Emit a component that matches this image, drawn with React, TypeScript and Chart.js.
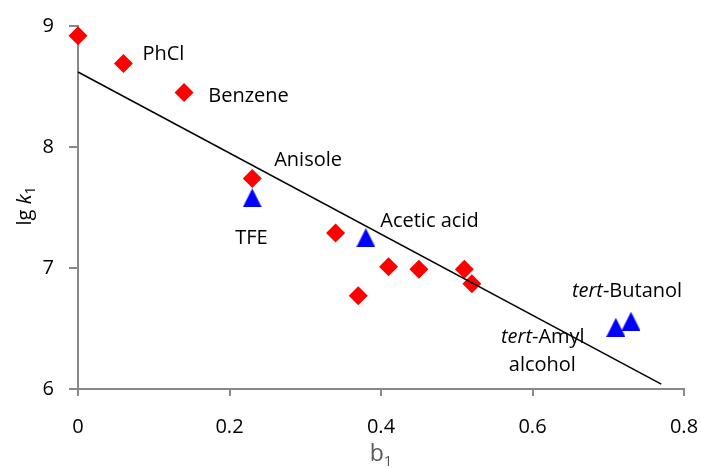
import React, { useEffect, useRef } from "react";
import { Chart, registerables } from "chart.js";

Chart.register(...registerables);

// ---- data ----
const diamondX = [0, 0.06, 0.14, 0.23, 0.34, 0.37, 0.41, 0.45, 0.51, 0.52];
const diamondY = [8.92, 8.69, 8.45, 7.74, 7.29, 6.77, 7.01, 6.99, 6.99, 6.87];
const triangleX = [0.23, 0.38, 0.71, 0.73];
const triangleY = [7.58, 7.25, 6.51, 6.56];
const fitX = [0, 0.77];
const fitY = [8.62, 6.04];
const xTicks = [0, 0.2, 0.4, 0.6, 0.8];
const yTicks = [6, 7, 8, 9];

// annotation texts (*...* = italic)
const labelTexts = ["PhCl", "Benzene", "Anisole", "TFE", "Acetic acid", "*tert*-Butanol", "*tert*-Amyl", "alcohol"];
// anchor (data coordinates) of each text's baseline
const labelAnchorX = [0.085, 0.172, 0.259, 0.229, 0.399, 0.652, 0.6136, 0.613];
const labelAnchorY = [8.717, 8.369, 7.843, 7.202, 7.339, 6.76, 6.378, 6.149];
const labelAlign = ["left", "left", "left", "center", "left", "left", "center", "center"];

const FONT = "'Open Sans', sans-serif";

function parseSegments(s: string) {
  const parts = s.split("*");
  return parts.map((t, i) => ({ t, italic: i % 2 === 1 })).filter((p) => p.t.length > 0);
}

function makeTriangle(size: number, color: string) {
  const c = document.createElement("canvas");
  c.width = size;
  c.height = size;
  const g = c.getContext("2d")!;
  g.fillStyle = color;
  g.beginPath();
  g.moveTo(size / 2, 0);
  g.lineTo(size, size);
  g.lineTo(0, size);
  g.closePath();
  g.fill();
  return c;
}

const textPlugin = {
  id: "texts",
  afterDraw(chart: any) {
    const ctx: CanvasRenderingContext2D = chart.ctx;
    const xs = chart.scales.x;
    const ys = chart.scales.y;
    ctx.save();
    ctx.textBaseline = "alphabetic";
    ctx.textAlign = "left";
    ctx.fillStyle = "#000";
    const size = 20;
    labelTexts.forEach((txt, i) => {
      const segs = parseSegments(txt);
      const px = xs.getPixelForValue(labelAnchorX[i]);
      const py = ys.getPixelForValue(labelAnchorY[i]);
      let total = 0;
      const widths = segs.map((s) => {
        ctx.font = `${s.italic ? "italic " : ""}${size}px ${FONT}`;
        const w = ctx.measureText(s.t).width;
        total += w;
        return w;
      });
      let x = labelAlign[i] === "center" ? px - total / 2 : px;
      segs.forEach((s, k) => {
        ctx.font = `${s.italic ? "italic " : ""}${size}px ${FONT}`;
        ctx.fillText(s.t, x, py);
        x += widths[k];
      });
    });

    // x-axis title: b1
    ctx.fillStyle = "#595959";
    ctx.font = `23px ${FONT}`;
    const bw = ctx.measureText("b").width;
    ctx.font = `15px ${FONT}`;
    const sw = ctx.measureText("1").width;
    const cx = (xs.left + xs.right) / 2;
    const sx = cx - (bw + sw) / 2;
    ctx.font = `23px ${FONT}`;
    ctx.fillText("b", sx, 461);
    ctx.font = `15px ${FONT}`;
    ctx.fillText("1", sx + bw, 466);

    // y-axis title: lg k1
    ctx.fillStyle = "#000";
    ctx.translate(31, 206);
    ctx.rotate(-Math.PI / 2);
    const parts = [
      { t: "lg ", f: `20px ${FONT}`, dy: 0 },
      { t: "k", f: `italic 20px ${FONT}`, dy: 0 },
      { t: "1", f: `14px ${FONT}`, dy: 4 },
    ];
    let tw = 0;
    const pw = parts.map((p) => {
      ctx.font = p.f;
      const w = ctx.measureText(p.t).width;
      tw += w;
      return w;
    });
    let tx = -tw / 2;
    parts.forEach((p, k) => {
      ctx.font = p.f;
      ctx.fillText(p.t, tx, p.dy);
      tx += pw[k];
    });
    ctx.restore();
  },
};

export default function App() {
  const ref = useRef<HTMLCanvasElement>(null);
  useEffect(() => {
    document.body.style.margin = "0";
    const tri = makeTriangle(19, "#0000FF");
    const axisGray = "#888888";
    const chart = new Chart(ref.current!, {
      type: "scatter",
      data: {
        datasets: [
          {
            label: "fit",
            data: fitX.map((x, i) => ({ x, y: fitY[i] })),
            showLine: true,
            pointRadius: 0,
            pointHoverRadius: 0,
            borderColor: "#000000",
            borderWidth: 1.5,
            clip: false,
          } as any,
          {
            label: "diamonds",
            data: diamondX.map((x, i) => ({ x, y: diamondY[i] })),
            pointStyle: "rectRot",
            pointRadius: 9.5,
            pointHoverRadius: 9.5,
            backgroundColor: "#FF0000",
            hoverBackgroundColor: "#FF0000",
            borderColor: "#FF0000",
            hoverBorderColor: "#FF0000",
            borderWidth: 0,
            hoverBorderWidth: 0,
            clip: false,
          } as any,
          {
            label: "triangles",
            data: triangleX.map((x, i) => ({ x, y: triangleY[i] })),
            pointStyle: tri as any,
            pointRadius: 10,
            backgroundColor: "#0000FF",
            borderColor: "#0000FF",
            clip: false,
          } as any,
        ],
      },
      options: {
        responsive: false,
        animation: false,
        events: [],
        layout: { padding: { left: 0, top: 26, right: 17, bottom: 0 } },
        plugins: { legend: { display: false }, tooltip: { enabled: false } },
        scales: {
          x: {
            type: "linear",
            min: 0,
            max: 0.8,
            afterBuildTicks: (s: any) => {
              s.ticks = xTicks.map((v) => ({ value: v }));
            },
            afterFit: (s: any) => {
              s.height = 79;
              s.paddingLeft = 0;
              s.paddingRight = 0;
            },
            ticks: {
              color: "#000",
              font: { family: FONT, size: 20 },
              padding: 19,
              maxRotation: 0,
              callback: (v: any) => String(v),
            },
            grid: { drawOnChartArea: false, drawTicks: true, tickLength: 7, color: axisGray, lineWidth: 2 },
            border: { display: true, color: axisGray, width: 2 },
          },
          y: {
            type: "linear",
            min: 6,
            max: 9,
            afterBuildTicks: (s: any) => {
              s.ticks = yTicks.map((v) => ({ value: v }));
            },
            afterFit: (s: any) => {
              s.width = 78;
              s.paddingTop = 0;
              s.paddingBottom = 0;
            },
            ticks: {
              color: "#000",
              font: { family: FONT, size: 20 },
              padding: 15,
              callback: (v: any) => String(v),
            },
            grid: { drawOnChartArea: false, drawTicks: true, tickLength: 9, color: axisGray, lineWidth: 2 },
            border: { display: true, color: axisGray, width: 2 },
          },
        },
      },
      plugins: [textPlugin],
    });
    return () => chart.destroy();
  }, []);
  return <canvas ref={ref} width={701} height={468} style={{ display: "block" }} />;
}
